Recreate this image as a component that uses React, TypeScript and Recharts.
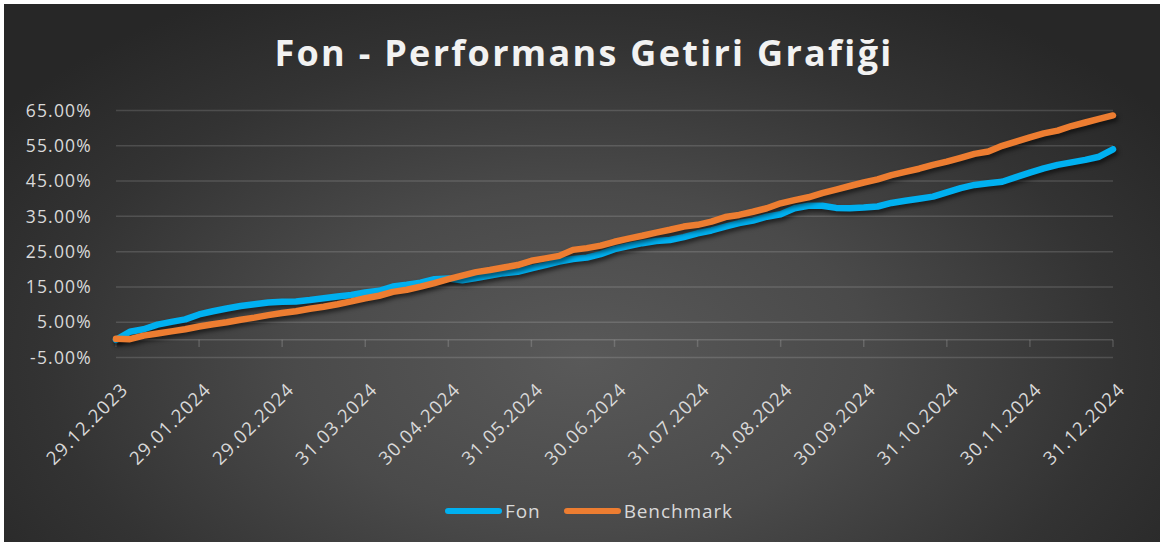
import React from 'react';
import { LineChart, Line, XAxis, YAxis, CartesianGrid, Legend, ReferenceLine } from 'recharts';

const xLabels = [
  '29.12.2023', '29.01.2024', '29.02.2024', '31.03.2024', '30.04.2024', '31.05.2024',
  '30.06.2024', '31.07.2024', '31.08.2024', '30.09.2024', '31.10.2024', '30.11.2024', '31.12.2024',
];
const STEP = 6;
const yTicks = [-5, 5, 15, 25, 35, 45, 55, 65];
const seriesOrder = ['Fon', 'Benchmark'];

const fon = [
  0.0, 2.3, 3.0, 4.3, 5.1, 5.8, 7.2, 8.1, 8.9, 9.6, 10.1, 10.6,
  10.8, 10.9, 11.3, 11.8, 12.3, 12.7, 13.4, 13.9, 15.1, 15.6, 16.2, 17.2,
  17.4, 16.9, 17.5, 18.2, 18.9, 19.3, 20.3, 21.2, 22.2, 22.9, 23.3, 24.3,
  25.7, 26.6, 27.4, 28.0, 28.3, 29.1, 30.2, 31.0, 32.1, 33.1, 33.8, 34.9,
  35.6, 37.3, 38.0, 38.0, 37.4, 37.3, 37.5, 37.8, 38.8, 39.4, 40.0, 40.6,
  41.8, 43.0, 43.9, 44.4, 44.8, 46.1, 47.4, 48.6, 49.6, 50.3, 51.0, 51.9,
  54.0,
];
const benchmark = [
  0.3, 0.2, 1.2, 1.8, 2.4, 3.0, 3.8, 4.4, 5.0, 5.7, 6.3, 7.0,
  7.6, 8.1, 8.8, 9.4, 10.1, 10.9, 11.8, 12.5, 13.6, 14.2, 15.1, 16.1,
  17.2, 18.2, 19.2, 19.8, 20.5, 21.2, 22.4, 23.1, 23.8, 25.5, 26.0, 26.7,
  27.8, 28.7, 29.5, 30.4, 31.2, 32.1, 32.6, 33.5, 34.8, 35.4, 36.3, 37.3,
  38.7, 39.6, 40.4, 41.6, 42.6, 43.6, 44.6, 45.5, 46.7, 47.6, 48.5, 49.6,
  50.5, 51.6, 52.7, 53.4, 55.0, 56.2, 57.4, 58.5, 59.3, 60.6, 61.6, 62.6,
  63.6,
];

const data = fon.map((v, i) => ({ i, fon: v, benchmark: benchmark[i] }));
const xTicks = xLabels.map((_, k) => k * STEP);

const FONT = "'Open Sans', sans-serif";
const LABEL = '#d9d9d9';

const XTick = (props: any) => {
  const { x, y, payload } = props;
  const ax = x + 4;
  return (
    <text
      x={ax}
      y={y}
      dy="0.71em"
      textAnchor="end"
      fill={LABEL}
      fontSize={18.5}
      fontFamily={FONT}
      letterSpacing={1.2}
      transform={`rotate(-45, ${ax}, ${y})`}
    >
      {xLabels[Math.round(payload.value / STEP)]}
    </text>
  );
};

const YTick = (props: any) => {
  const { x, y, payload } = props;
  return (
    <text x={x} y={y} dy="0.355em" textAnchor="end" fill={LABEL} fontSize={17.5} fontFamily={FONT} letterSpacing={1.2}>
      {payload.value.toFixed(2) + '%'}
    </text>
  );
};

const renderLegend = (props: any) => {
  const payload = [...(props.payload || [])].sort(
    (a: any, b: any) => seriesOrder.indexOf(a.value) - seriesOrder.indexOf(b.value)
  );
  return (
    <div style={{ display: 'flex', justifyContent: 'center', alignItems: 'center', paddingLeft: 14 }}>
      {payload.map((entry: any, idx: number) => (
        <div key={idx} style={{ display: 'flex', alignItems: 'center', marginRight: idx === 0 ? 23 : 0 }}>
          <span style={{ display: 'inline-block', width: 57, height: 6, borderRadius: 3, background: entry.color }} />
          <span style={{ color: LABEL, fontSize: 19, fontFamily: FONT, marginLeft: 3, letterSpacing: 0.9, lineHeight: '24px' }}>
            {entry.value}
          </span>
        </div>
      ))}
    </div>
  );
};

export default function App() {
  return (
    <div style={{ position: 'fixed', left: 0, top: 0, width: 1164, height: 547, background: '#ffffff' }}>
      <style>{'.recharts-line .recharts-line-curve{filter:drop-shadow(2px 3px 2px rgba(0,0,0,0.55));}'}</style>
      <div
        style={{
          position: 'absolute',
          left: 4,
          top: 4,
          width: 1156,
          height: 538,
          background: 'radial-gradient(ellipse 62% 78% at 50% 66%, #595959 0%, #4a4a4a 40%, #333333 75%, #272727 100%)',
          overflow: 'hidden',
        }}
      >
        <div
          style={{
            position: 'absolute',
            left: 0,
            top: 28,
            width: 1156,
            textAlign: 'center',
            color: '#f2f2f2',
            fontFamily: FONT,
            fontWeight: 700,
            fontSize: 36,
            letterSpacing: 2.3,
            lineHeight: '42px',
            paddingLeft: 4,
            boxSizing: 'border-box',
          }}
        >
          Fon - Performans Getiri Grafiği
        </div>
        <LineChart
          width={1156}
          height={538}
          data={data}
          margin={{ top: 106.5, right: 47, bottom: 64.5, left: 0 }}
          style={{ position: 'absolute', left: 0, top: 0 }}
        >
          <CartesianGrid vertical={false} stroke="rgba(255,255,255,0.14)" strokeWidth={1.5} />
          <XAxis
            dataKey="i"
            type="number"
            domain={[0, 72]}
            ticks={xTicks}
            interval={0}
            height={120}
            axisLine={false}
            tickLine={false}
            tickSize={0}
            tickMargin={24}
            tick={<XTick />}
          />
          <YAxis
            type="number"
            domain={[-5, 65]}
            ticks={yTicks}
            interval={0}
            width={112}
            axisLine={false}
            tickLine={false}
            tickSize={0}
            tickMargin={24}
            tick={<YTick />}
          />
          <ReferenceLine y={0} stroke="rgba(255,255,255,0.16)" strokeWidth={1.5} />
          {xTicks.map((t) => (
            <ReferenceLine
              key={t}
              segment={[{ x: t, y: 0 }, { x: t, y: -2 }]}
              stroke="rgba(255,255,255,0.16)"
              strokeWidth={1.5}
            />
          ))}
          <Legend
            verticalAlign="middle"
            align="center"
            layout="horizontal"
            content={renderLegend}
            wrapperStyle={{ position: 'absolute', top: 495, left: 0, width: 1156 }}
          />
          <Line
            type="linear"
            dataKey="fon"
            name="Fon"
            stroke="#00B0F0"
            strokeWidth={6.5}
            strokeLinecap="round"
            strokeLinejoin="round"
            dot={false}
            activeDot={false}
            isAnimationActive={false}
          />
          <Line
            type="linear"
            dataKey="benchmark"
            name="Benchmark"
            stroke="#ED7D31"
            strokeWidth={6.5}
            strokeLinecap="round"
            strokeLinejoin="round"
            dot={false}
            activeDot={false}
            isAnimationActive={false}
          />
        </LineChart>
      </div>
    </div>
  );
}
